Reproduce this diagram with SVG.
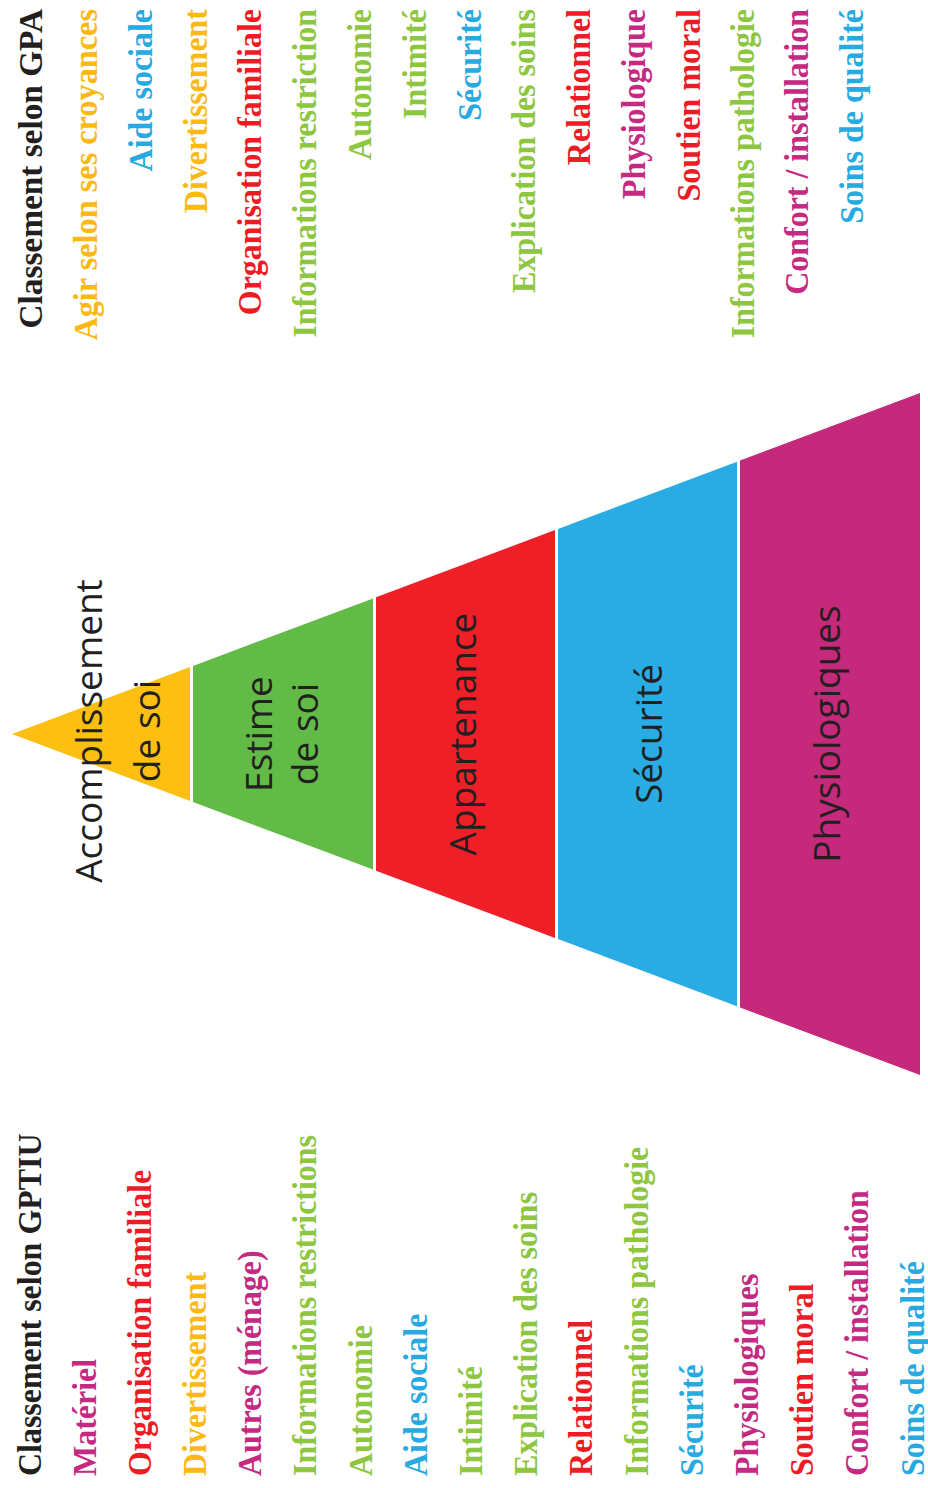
<svg xmlns="http://www.w3.org/2000/svg" width="928" height="1488" viewBox="0 0 928 1488">
<style>
.lst{font-family:"Liberation Serif","Times New Roman",serif;font-weight:bold;font-size:34px}
.e{text-anchor:end}
.pt{font-family:"Open Sans","Noto Sans",sans-serif;font-size:37px;fill:#231F20;text-anchor:middle}
.k{fill:#231F20}.y{fill:#FDB913}.b{fill:#27AAE1}.g{fill:#8DC63F}.r{fill:#ED1C24}.m{fill:#C42A82}
</style>
<rect width="928" height="1488" fill="#fff"/>
<g id="connectors"/>
<g id="pyramid">
<g id="level-accomplissement">
<polygon points="12,734 190,667.1 190,800.9" fill="#FCBF12"/>
<text class="pt" transform="translate(102,731) rotate(-90)">Accomplissement</text>
<text class="pt" transform="translate(160,731) rotate(-90)">de soi</text>
</g>
<g id="level-estime">
<polygon points="193,666 373,598.4 373,869.6 193,802" fill="#62BB47"/>
<text class="pt" transform="translate(272,734) rotate(-90)">Estime</text>
<text class="pt" transform="translate(318,734) rotate(-90)">de soi</text>
</g>
<g id="level-appartenance">
<polygon points="376,597.3 555,530.1 555,937.9 376,870.7" fill="#EE1F26"/>
<text class="pt" transform="translate(476,734) rotate(-90)">Appartenance</text>
</g>
<g id="level-securite">
<polygon points="558,528.9 737,461.7 737,1006.3 558,939.1" fill="#29ACE3"/>
<text class="pt" transform="translate(662,734) rotate(-90)">Sécurité</text>
</g>
<g id="level-physiologiques">
<polygon points="740,460.6 920,393 920,1075 740,1007.4" fill="#C5297B"/>
<text class="pt" transform="translate(840,734) rotate(-90)">Physiologiques</text>
</g>
</g>
<g id="list-gpa">
<text class="lst e k" transform="translate(42,9) rotate(-90) scale(0.98,1)">Classement selon GPA</text>
<text class="lst e y" transform="translate(97,9) rotate(-90) scale(0.95,1)">Agir selon ses croyances</text>
<text class="lst e b" transform="translate(152,9) rotate(-90) scale(0.94,1)">Aide sociale</text>
<text class="lst e y" transform="translate(207,9) rotate(-90) scale(0.94,1)">Divertissement</text>
<text class="lst e r" transform="translate(261,9) rotate(-90) scale(0.94,1)">Organisation familiale</text>
<text class="lst e g" transform="translate(316,9) rotate(-90) scale(0.94,1)">Informations restriction</text>
<text class="lst e g" transform="translate(371,9) rotate(-90) scale(0.94,1)">Autonomie</text>
<text class="lst e g" transform="translate(426,9) rotate(-90) scale(0.94,1)">Intimité</text>
<text class="lst e b" transform="translate(481,9) rotate(-90) scale(0.94,1)">Sécurité</text>
<text class="lst e g" transform="translate(535,9) rotate(-90) scale(0.94,1)">Explication des soins</text>
<text class="lst e r" transform="translate(590,9) rotate(-90) scale(0.94,1)">Relationnel</text>
<text class="lst e m" transform="translate(645,9) rotate(-90) scale(0.94,1)">Physiologique</text>
<text class="lst e r" transform="translate(700,9) rotate(-90) scale(0.94,1)">Soutien moral</text>
<text class="lst e g" transform="translate(754,9) rotate(-90) scale(0.94,1)">Informations pathologie</text>
<text class="lst e m" transform="translate(808,9) rotate(-90) scale(0.94,1)">Confort / installation</text>
<text class="lst e b" transform="translate(863,9) rotate(-90) scale(0.94,1)">Soins de qualité</text>
</g>
<g id="list-gptiu">
<text class="lst k" transform="translate(41,1476) rotate(-90) scale(0.94,1)">Classement selon GPTIU</text>
<text class="lst m" transform="translate(95.5,1476) rotate(-90) scale(0.94,1)">Matériel</text>
<text class="lst r" transform="translate(150.7,1476) rotate(-90) scale(0.94,1)">Organisation familiale</text>
<text class="lst y" transform="translate(205.9,1476) rotate(-90) scale(0.94,1)">Divertissement</text>
<text class="lst m" transform="translate(261.1,1476) rotate(-90) scale(0.94,1)">Autres (ménage)</text>
<text class="lst g" transform="translate(316.3,1476) rotate(-90) scale(0.94,1)">Informations restrictions</text>
<text class="lst g" transform="translate(371.5,1476) rotate(-90) scale(0.94,1)">Autonomie</text>
<text class="lst b" transform="translate(426.7,1476) rotate(-90) scale(0.94,1)">Aide sociale</text>
<text class="lst g" transform="translate(481.9,1476) rotate(-90) scale(0.94,1)">Intimité</text>
<text class="lst g" transform="translate(537.1,1476) rotate(-90) scale(0.94,1)">Explication des soins</text>
<text class="lst r" transform="translate(592.3,1476) rotate(-90) scale(0.94,1)">Relationnel</text>
<text class="lst g" transform="translate(647.5,1476) rotate(-90) scale(0.94,1)">Informations pathologie</text>
<text class="lst b" transform="translate(702.7,1476) rotate(-90) scale(0.94,1)">Sécurité</text>
<text class="lst m" transform="translate(757.9,1476) rotate(-90) scale(0.94,1)">Physiologiques</text>
<text class="lst r" transform="translate(813.1,1476) rotate(-90) scale(0.94,1)">Soutien moral</text>
<text class="lst m" transform="translate(868.3,1476) rotate(-90) scale(0.94,1)">Confort / installation</text>
<text class="lst b" transform="translate(923.5,1476) rotate(-90) scale(0.94,1)">Soins de qualité</text>
</g>
</svg>
